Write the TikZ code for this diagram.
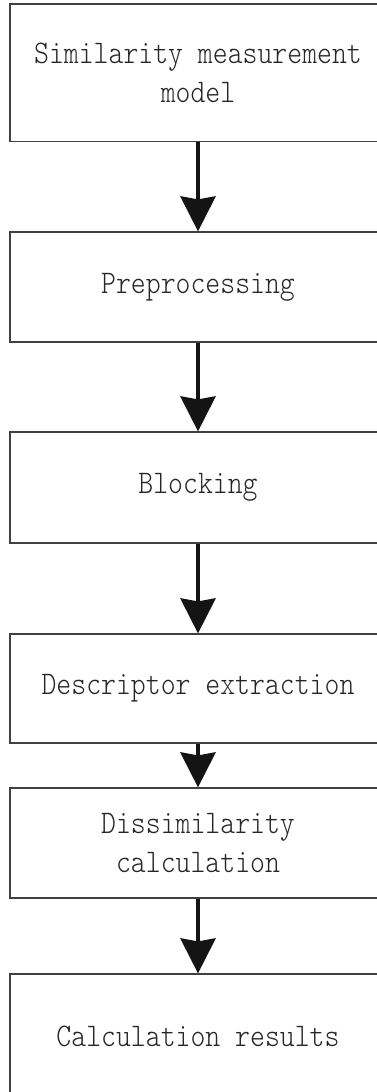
\documentclass[tikz,border=0pt]{standalone}
\usepackage{fontspec}
\newfontfamily\flowfont[FakeStretch=0.86]{lmmonolt10-regular.otf}
\usetikzlibrary{arrows.meta}
\begin{document}
\begin{tikzpicture}[x=1pt,y=1pt,
  stepbox/.style={draw=black!75,line width=1.2pt,fill=white,minimum width=376pt,inner sep=0pt,
    align=center,text=black!85,font=\fontsize{33}{39}\selectfont\flowfont},
  flow/.style={draw=black!92,line width=4pt,-{Stealth[length=35pt,width=35pt,inset=3pt]}}]
\useasboundingbox (0,0) rectangle (377,-1092);
\clip (0,0) rectangle (377,-1092);
\node[stepbox,minimum height=137.5pt] (b1) at (198,-72.75) {Similarity measurement\\model};
\node[stepbox,minimum height=110pt] (b2) at (198,-287) {Preprocessing};
\node[stepbox,minimum height=111pt] (b3) at (198,-487.5) {Blocking};
\node[stepbox,minimum height=109pt] (b4) at (198,-688.5) {Descriptor extraction};
\node[stepbox,minimum height=110pt] (b5) at (198,-843) {Dissimilarity\\calculation};
\node[stepbox,minimum height=124pt] (b6) at (198,-1036) {Calculation results};
\draw[flow] (b1.south) -- (b2.north);
\draw[flow] (b2.south) -- (b3.north);
\draw[flow] (b3.south) -- (b4.north);
\draw[flow] (b4.south) -- (b5.north);
\draw[flow] (b5.south) -- (b6.north);
\end{tikzpicture}
\end{document}
